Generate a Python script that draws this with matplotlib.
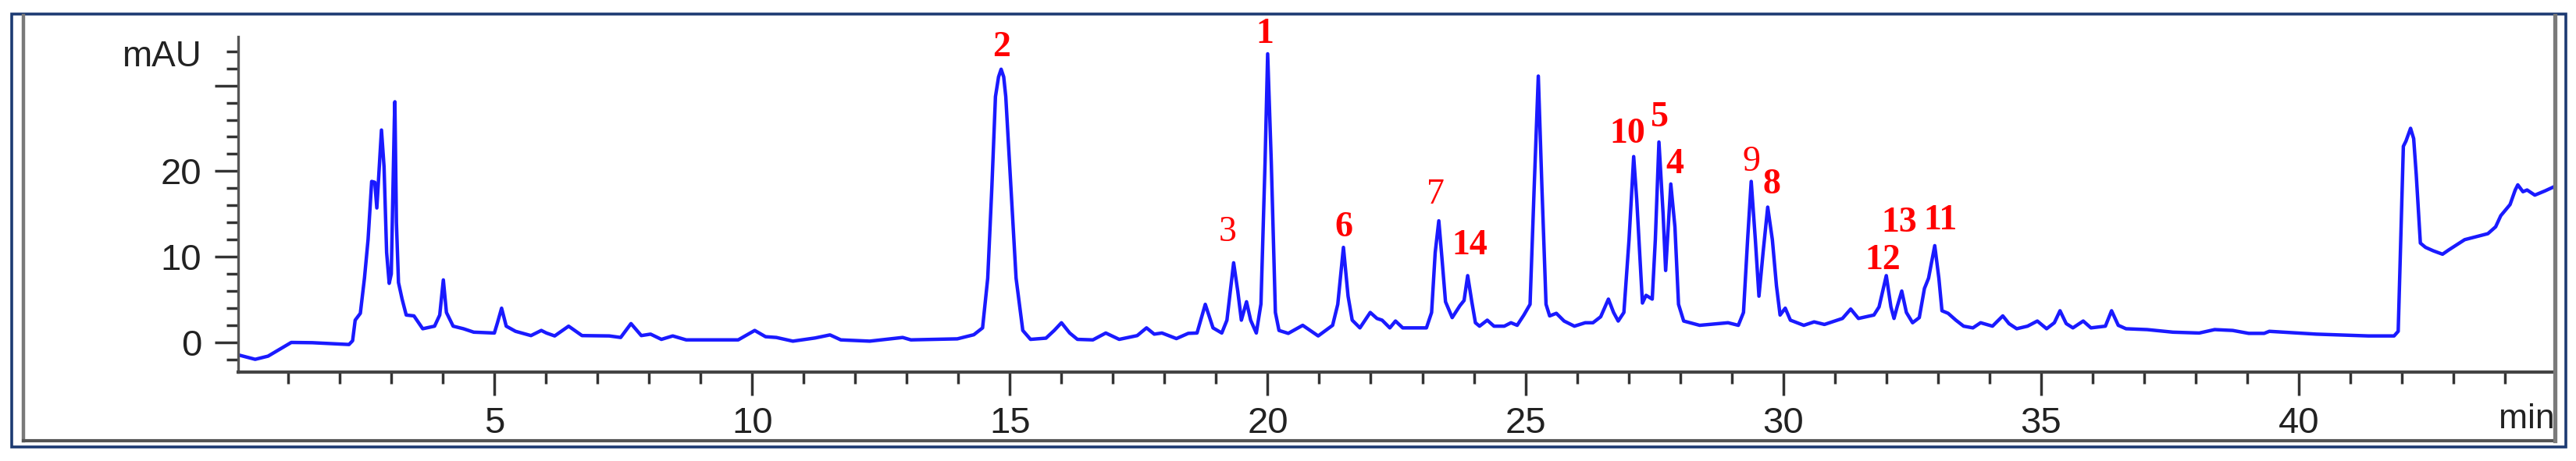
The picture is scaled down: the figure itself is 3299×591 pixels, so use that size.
import matplotlib
matplotlib.use("Agg")
import matplotlib.pyplot as plt
from matplotlib.patches import Rectangle
from matplotlib.lines import Line2D
from matplotlib.ticker import MultipleLocator

# chromatogram trace (time in min, signal in mAU)
T = [0.03, 0.36, 0.61, 1.06, 1.47, 2.18, 2.25, 2.30, 2.40, 2.48, 2.55, 2.62,
     2.68, 2.72, 2.81, 2.86, 2.91, 2.96, 3.00, 3.06, 3.07, 3.10, 3.14, 3.21,
     3.29, 3.44, 3.61, 3.84, 3.94, 4.01, 4.07, 4.20, 4.40, 4.60, 5.00, 5.06,
     5.14, 5.23, 5.41, 5.71, 5.91, 6.01, 6.17, 6.44, 6.70, 7.23, 7.45, 7.65,
     7.85, 8.03, 8.24, 8.46, 8.72, 9.73, 10.05, 10.26, 10.47, 10.79, 11.22,
     11.51, 11.72, 12.28, 12.92, 13.08, 13.98, 14.30, 14.47, 14.57, 14.65,
     14.72, 14.78, 14.83, 14.88, 14.92, 15.02, 15.12, 15.25, 15.40, 15.70,
     15.86, 16.00, 16.16, 16.31, 16.61, 16.86, 17.12, 17.47, 17.65, 17.80,
     17.95, 18.23, 18.46, 18.63, 18.79, 18.94, 19.11, 19.21, 19.34, 19.42,
     19.49, 19.59, 19.67, 19.78, 19.87, 19.95, 20.00, 20.07, 20.15, 20.22,
     20.40, 20.68, 20.98, 21.26, 21.36, 21.47, 21.56, 21.64, 21.79, 21.99,
     22.12, 22.22, 22.37, 22.48, 22.62, 23.08, 23.18, 23.25, 23.32, 23.38,
     23.45, 23.58, 23.73, 23.81, 23.88, 23.96, 24.03, 24.11, 24.26, 24.39,
     24.59, 24.72, 24.84, 24.97, 25.09, 25.17, 25.25, 25.32, 25.40, 25.47,
     25.60, 25.75, 25.95, 26.16, 26.31, 26.46, 26.61, 26.71, 26.80, 26.91,
     27.01, 27.10, 27.16, 27.27, 27.34, 27.46, 27.52, 27.59, 27.67, 27.72,
     27.82, 27.90, 27.97, 28.07, 28.38, 28.93, 29.13, 29.23, 29.31, 29.38,
     29.46, 29.53, 29.61, 29.70, 29.79, 29.87, 29.94, 30.04, 30.14, 30.40,
     30.60, 30.80, 31.15, 31.31, 31.46, 31.76, 31.86, 32.00, 32.09, 32.15,
     32.21, 32.30, 32.39, 32.51, 32.64, 32.74, 32.82, 32.94, 33.02, 33.08,
     33.20, 33.35, 33.50, 33.68, 33.83, 34.06, 34.26, 34.38, 34.53, 34.74,
     34.93, 35.11, 35.26, 35.37, 35.49, 35.62, 35.82, 35.97, 36.25, 36.37,
     36.50, 36.65, 37.06, 37.56, 38.07, 38.37, 38.72, 39.03, 39.33, 39.43,
     40.34, 41.35, 41.85, 41.93, 41.98, 42.03, 42.08, 42.17, 42.23, 42.28,
     42.36, 42.46, 42.61, 42.79, 42.91, 43.22, 43.67, 43.82, 43.92, 44.10,
     44.20, 44.25, 44.35, 44.43, 44.58, 44.78, 44.96]
MAU = [-1.45, -1.97, -1.6, 0.0, -0.03, -0.24, 0.2, 2.6, 3.4, 7.5, 12.0, 18.8,
       18.7, 15.7, 24.8, 20.5, 10.5, 6.9, 8.0, 26.0, 28.1, 14.0, 7.0, 5.06,
       3.2, 3.1, 1.6, 1.9, 3.2, 7.3, 3.5, 1.9, 1.6, 1.2, 1.1, 2.3,
       4.0, 1.9, 1.3, 0.8, 1.4, 1.1, 0.76, 1.9, 0.8, 0.76, 0.58, 2.2,
       0.8, 0.97, 0.36, 0.76, 0.3, 0.3, 1.4, 0.67, 0.58, 0.15, 0.52,
       0.88, 0.3, 0.15, 0.58, 0.3, 0.42, 0.9, 1.7, 7.5, 18.1,
       28.7, 31.0, 31.9, 31.0, 28.7, 18.1, 7.5, 1.4, 0.36, 0.5,
       1.4, 2.3, 1.1, 0.36, 0.3, 1.1, 0.36, 0.8, 1.7, 0.97,
       1.1, 0.45, 1.06, 1.1, 4.45, 1.7, 1.1, 2.6, 9.3, 6.0,
       2.6, 4.75, 2.6, 1.1, 4.5, 21.1, 33.7, 21.1, 3.5, 1.4,
       1.06, 2.0, 0.76, 2.0, 4.45, 11.1, 5.4, 2.6, 1.7, 3.5,
       2.8, 2.6, 1.7, 2.5, 1.7, 1.7, 3.5, 10.5, 14.2, 9.9,
       4.75, 2.9, 4.3, 4.9, 7.8, 4.75, 2.3, 1.9, 2.6, 1.9,
       1.9, 2.3, 2.0, 3.2, 4.45, 18.1, 31.1, 18.1, 4.45, 3.1,
       3.4, 2.5, 1.9, 2.3, 2.3, 3.0, 5.06, 3.5, 2.5, 3.5,
       12.0, 21.7, 16.6, 4.6, 5.5, 5.06, 12.0, 23.4, 15.1, 8.4,
       18.5, 13.5, 4.45, 2.5, 2.0, 2.3, 2.0, 3.5, 12.0, 18.8,
       12.0, 5.4, 10.5, 15.8, 12.0, 6.6, 3.2, 4.0, 2.6, 2.0,
       2.4, 2.1, 2.8, 3.9, 2.8, 3.2, 4.15, 7.8, 4.15, 2.8,
       4.15, 6.0, 3.5, 2.3, 2.9, 6.3, 7.5, 11.3, 7.5, 3.7,
       3.4, 2.6, 1.9, 1.7, 2.3, 1.9, 3.1, 2.2, 1.6, 1.9,
       2.5, 1.6, 2.3, 3.7, 2.2, 1.7, 2.5, 1.7, 1.9, 3.7,
       2.0, 1.6, 1.5, 1.2, 1.1, 1.5, 1.4, 1.06, 1.06, 1.3,
       0.97, 0.76, 0.76, 1.3, 12.0, 22.9, 23.5, 25.0, 23.8, 19.6,
       11.6, 11.1, 10.7, 10.3, 10.8, 12.0, 12.7, 13.5, 14.8, 16.1,
       17.8, 18.4, 17.6, 17.8, 17.2, 17.7, 18.2]

# peak numbers and where they sit (data units)
PEAK_LABELS = ["2", "3", "1", "6", "7", "14", "10", "5", "4", "9", "8",
               "12", "13", "11"]
PEAK_T = [14.83, 19.22, 19.95, 21.48, 23.26, 23.92, 26.98, 27.61, 27.90,
          29.39, 29.78, 31.93, 32.25, 33.05]
PEAK_Y = [34.4, 12.83, 36.0, 13.43, 17.23, 11.30, 24.28, 26.19, 20.72,
          21.03, 18.44, 9.60, 13.90, 14.19]
THIN = {"3", "7", "9"}

W, H = 3299, 591
fig = plt.figure(figsize=(W / 100, H / 100), dpi=100)
ax = fig.add_axes([305 / W, 1 - 477 / H, (3272 - 305) / W, (477 - 47) / H])

ax.plot(T, MAU, color="#1a1aff", lw=3.2, solid_joinstyle="round")
ax.set_xlim(0.03, 44.97)
ax.set_ylim(-3.46, 35.7)

ax.xaxis.set_minor_locator(MultipleLocator(1))
ax.set_xticks([5, 10, 15, 20, 25, 30, 35, 40])
ax.set_yticks([0, 10, 20, 30])
ax.set_yticklabels(["0", "10", "20", ""])
ax.yaxis.set_minor_locator(MultipleLocator(2))

for s in ("top", "right"):
    ax.spines[s].set_visible(False)
ax.spines["left"].set_color("#555555")
ax.spines["left"].set_linewidth(2.4)
ax.spines["bottom"].set_color("#444444")
ax.spines["bottom"].set_linewidth(3.0)

ax.tick_params(which="major", length=21.6, width=2.5, color="#333333",
               labelsize=34, labelcolor="#222222")
ax.tick_params(which="minor", length=10.8, width=2.5, color="#333333")
ax.tick_params(axis="x", which="major", pad=10)
ax.tick_params(axis="y", which="major", pad=12)
for lab in ax.get_xticklabels() + ax.get_yticklabels():
    lab.set_fontfamily("Liberation Sans")

ax.annotate("mAU", xy=(0, 33.3), xycoords=("axes fraction", "data"),
            xytext=(-33.8, 0), textcoords="offset points", ha="right",
            va="center", fontsize=33, color="#222222",
            family="Liberation Sans")
ax.annotate("min", xy=(1, 0), xycoords="axes fraction",
            xytext=(0, -52), textcoords="offset points", ha="right",
            va="baseline", fontsize=32, color="#222222",
            family="Liberation Sans", annotation_clip=False)

for lab, t, y in zip(PEAK_LABELS, PEAK_T, PEAK_Y):
    ax.text(t, y, lab, color="red", fontsize=33, ha="center", va="center",
            family="Liberation Serif",
            fontweight="normal" if lab in THIN else "bold", clip_on=False)

# picture frame: gray inner lines and navy outer border
gray = "#7a7a7a"
fig.add_artist(Line2D([30 / W, 30 / W], [1 - 565 / H, 1 - 20 / H],
                      color=gray, lw=3.2, transform=fig.transFigure))
fig.add_artist(Line2D([30 / W, 3272 / W], [1 - 565 / H, 1 - 565 / H],
                      color="#555555", lw=3.0, transform=fig.transFigure))
fig.add_artist(Line2D([3272 / W, 3272 / W], [1 - 565 / H, 1 - 20 / H],
                      color=gray, lw=3.8, transform=fig.transFigure))
fig.add_artist(Rectangle((15 / W, 1 - 573 / H), (3286 - 15) / W,
                         (573 - 18) / H, fill=False, edgecolor="#1c3a72",
                         lw=2.6, transform=fig.transFigure))

fig.savefig("out.png", dpi=100)
